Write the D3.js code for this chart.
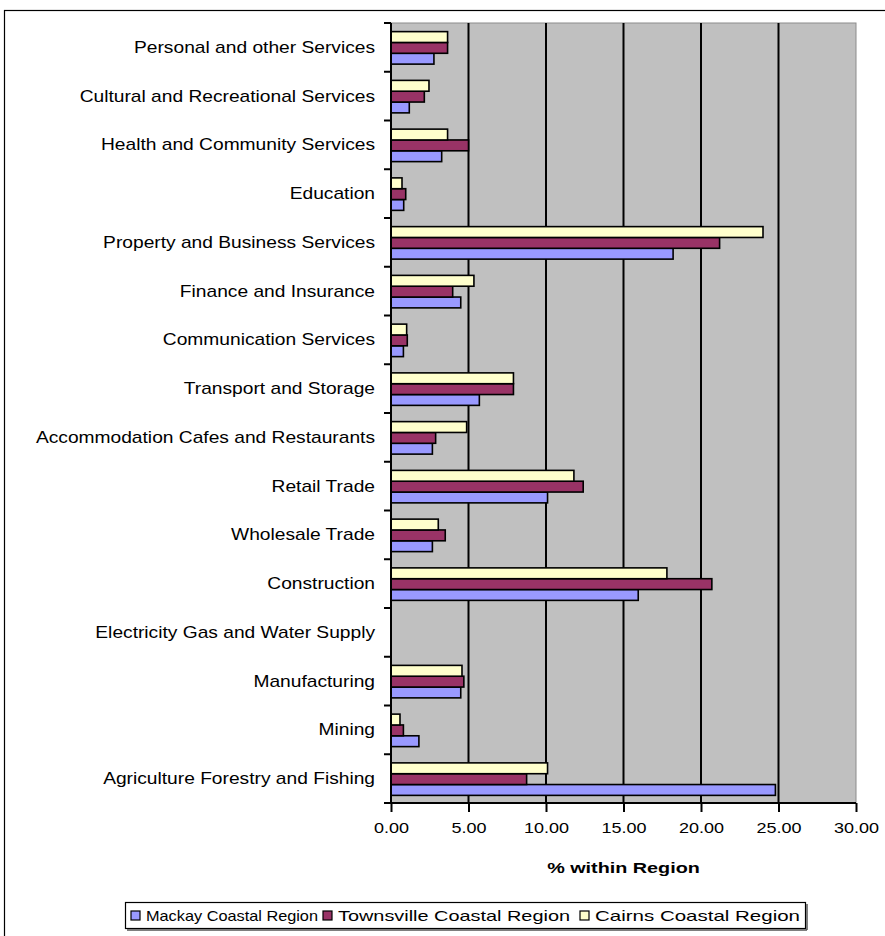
<!DOCTYPE html>
<html><head><meta charset="utf-8">
<script src="https://cdn.jsdelivr.net/npm/d3@7"></script>
<style>body{margin:0;background:#fff} text{font-family:"Liberation Sans",Arial,sans-serif;fill:#000}</style>
</head><body><svg id="c" width="885" height="936"></svg>
<script>
const categories = ["Agriculture Forestry and Fishing","Mining","Manufacturing","Electricity Gas and Water Supply","Construction","Wholesale Trade","Retail Trade","Accommodation Cafes and Restaurants","Transport and Storage","Communication Services","Finance and Insurance","Property and Business Services","Education","Health and Community Services","Cultural and Recreational Services","Personal and other Services"];
const seriesNames = ["Mackay Coastal Region","Townsville Coastal Region","Cairns Coastal Region"];
const mackay = [24.8,1.8,4.5,0,15.95,2.67,10.1,2.67,5.7,0.8,4.5,18.2,0.82,3.27,1.18,2.77];
const townsville = [8.75,0.8,4.7,0,20.7,3.5,12.4,2.88,7.9,1.05,3.98,21.2,0.95,5.0,2.15,3.65];
const cairns = [10.1,0.58,4.58,0,17.8,3.05,11.8,4.88,7.9,1.01,5.35,24.0,0.71,3.65,2.45,3.65];
const xTicks = [0,5,10,15,20,25,30];
const colors = ["#9999FF","#993366","#FFFFCC"];
const axisTitle = "% within Region";

const svg = d3.select("#c");
const L = 391, R = 856, T = 23, B = 803;
const x = d3.scaleLinear().domain([0,30]).range([L,R]);
const y = d3.scaleBand().domain(categories.slice().reverse()).range([T,B]);
const sub = d3.scaleBand().domain([2,1,0]).range([y.bandwidth()*0.1667+0.5, y.bandwidth()*0.8333+0.5]);
const seriesVals = [mackay, townsville, cairns];

// outer border
svg.append("rect").attr("x",4.5).attr("y",10.5).attr("width",1000).attr("height",1000)
  .attr("fill","none").attr("stroke","#000").attr("stroke-width",1.2);

// plot area
svg.append("rect").attr("x",L).attr("y",T).attr("width",R-L).attr("height",B-T)
  .attr("fill","#C0C0C0").attr("stroke","#8c8c8c").attr("stroke-width",1);

// gridlines
svg.append("g").selectAll("line").data(xTicks.filter(d=>d>0&&d<30)).join("line")
  .attr("x1",d=>x(d)).attr("x2",d=>x(d)).attr("y1",T).attr("y2",B)
  .attr("stroke","#000").attr("stroke-width",2);

// bars
categories.forEach((c,i)=>{
  seriesVals.forEach((vals,s)=>{
    if(vals[i]<=0) return;
    svg.append("rect").attr("x",x(0)).attr("y",y(c)+sub(s))
      .attr("width",x(vals[i])-x(0)).attr("height",sub.bandwidth())
      .attr("fill",colors[s]).attr("stroke","#000").attr("stroke-width",1.6);
  });
});

// axes
const xAxis = d3.axisBottom(x).tickValues(xTicks).tickFormat(d3.format(".2f")).tickSize(9).tickPadding(8);
const gx = svg.append("g").attr("transform",`translate(0,${B})`).call(xAxis);
gx.select(".domain").attr("stroke","#000").attr("stroke-width",2).attr("d",`M${L-7},0H${R}`);
gx.selectAll(".tick line").attr("stroke","#000").attr("stroke-width",2);
gx.selectAll(".tick text").attr("font-family",null).style("font-size","15px")
  .attr("y",null).attr("dy",null).attr("transform","translate(0,30) scale(1.2,1)");

const gy = svg.append("g").attr("transform",`translate(${L},0)`);
gy.append("line").attr("x1",0).attr("x2",0).attr("y1",T).attr("y2",B).attr("stroke","#000").attr("stroke-width",2);
const bounds = y.domain().map(d=>y(d)).concat([B]);
gy.selectAll("line.t").data(bounds).join("line").attr("class","t")
  .attr("x1",-7).attr("x2",0).attr("y1",d=>d).attr("y2",d=>d).attr("stroke","#000").attr("stroke-width",2);
gy.selectAll("text").data(categories).join("text")
  .attr("transform",d=>`translate(-16,${y(d)+y.bandwidth()/2}) scale(1.2,1)`).attr("dy","0.35em")
  .attr("text-anchor","end").style("font-size","16px").text(d=>d);

// axis title
svg.append("text").attr("transform",`translate(${(L+R)/2},873) scale(1.32,1)`).attr("text-anchor","middle")
  .style("font-size","15px").style("font-weight","bold").text(axisTitle);

// legend
const lg = svg.append("g");
lg.append("rect").attr("x",125.5).attr("y",902.5).attr("width",680).attr("height",26)
  .attr("fill","#fff").attr("stroke","#000").attr("stroke-width",1.2);
lg.append("line").attr("x1",127).attr("x2",807).attr("y1",930).attr("y2",930).attr("stroke","#555").attr("stroke-width",1.5);
lg.append("line").attr("x1",807).attr("x2",807).attr("y1",904).attr("y2",930).attr("stroke","#555").attr("stroke-width",1.5);
const itemX = [131, 323, 580];
const itemEnd = [318, 570, 800];
seriesNames.forEach((n,s)=>{
  lg.append("rect").attr("x",itemX[s]).attr("y",911).attr("width",9).attr("height",9)
    .attr("fill",colors[s]).attr("stroke","#000").attr("stroke-width",1.2);
  lg.append("text").attr("x",itemX[s]+15).attr("y",921).style("font-size","15px")
    .attr("textLength",itemEnd[s]-itemX[s]-15).attr("lengthAdjust","spacingAndGlyphs").text(n);
});
</script></body></html>
